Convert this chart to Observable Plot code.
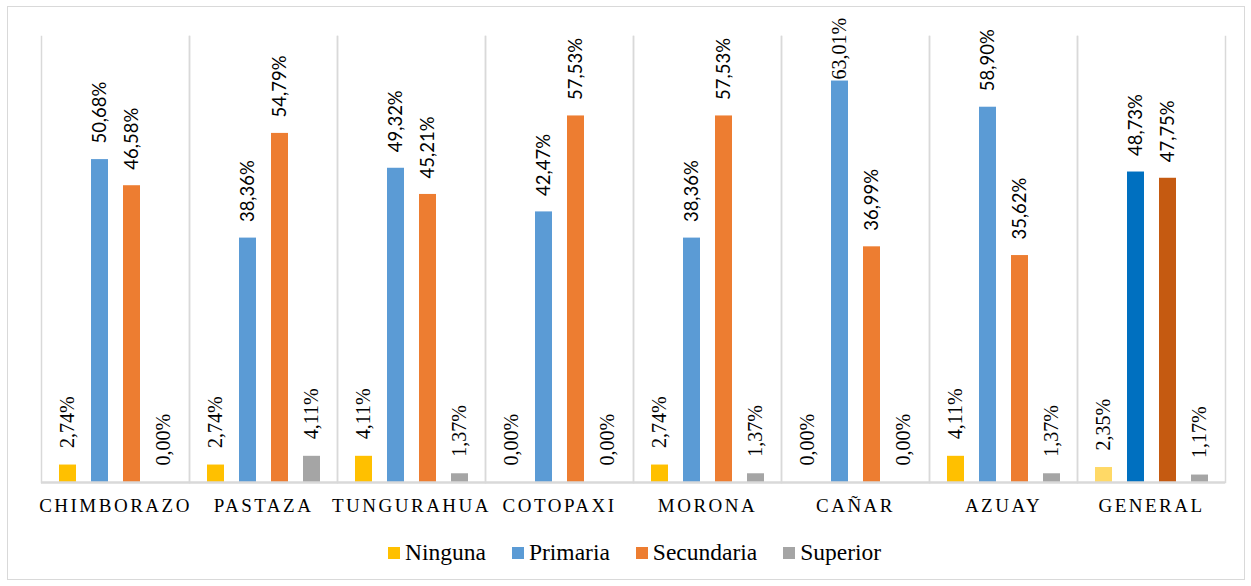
<!DOCTYPE html>
<html>
<head>
<meta charset="utf-8">
<script src="https://cdn.jsdelivr.net/npm/d3@7"></script>
<script src="https://cdn.jsdelivr.net/npm/@observablehq/plot@0.6"></script>
<style>
  html, body { margin: 0; padding: 0; background: #fff; }
  #wrap { position: relative; width: 1251px; height: 586px; overflow: hidden; }
  #border { position: absolute; left: 7px; top: 6px; width: 1236px; height: 572px; border: 1.5px solid #d9d9d9; pointer-events: none; }
  #chart { position: absolute; left: 0; top: 0; }
  #legend { position: absolute; left: 388px; top: 539px; display: flex; align-items: center;
            font-family: "Liberation Serif", "Times New Roman", serif; font-size: 23.5px; color: #000; }
  #legend .item { display: flex; align-items: center; margin-right: 26px; }
  #legend .sw { width: 12px; height: 12px; margin-right: 5px; }
</style>
</head>
<body>
<div id="wrap">
  <div id="chart"></div>
  <div id="border"></div>
  <div id="legend"></div>
</div>
<script>
const groups = ["CHIMBORAZO", "PASTAZA", "TUNGURAHUA", "COTOPAXI", "MORONA", "CAÑAR", "AZUAY", "GENERAL"];
const series = ["Ninguna", "Primaria", "Secundaria", "Superior"];
const ninguna    = [2.74, 2.74, 4.11, 0.00, 2.74, 0.00, 4.11, 2.35];
const primaria   = [50.68, 38.36, 49.32, 42.47, 38.36, 63.01, 58.90, 48.73];
const secundaria = [46.58, 54.79, 45.21, 57.53, 57.53, 36.99, 35.62, 47.75];
const superior   = [0.00, 4.11, 1.37, 0.00, 1.37, 0.00, 1.37, 1.17];

const colors = {Ninguna: "#FFC000", Primaria: "#5B9BD5", Secundaria: "#ED7D31", Superior: "#A5A5A5"};
const colorsGeneral = {Ninguna: "#FFD966", Primaria: "#0070C0", Secundaria: "#C55A11", Superior: "#A5A5A5"};

const valuesBySeries = {Ninguna: ninguna, Primaria: primaria, Secundaria: secundaria, Superior: superior};
const data = [];
groups.forEach((g, i) => {
  series.forEach(s => {
    data.push({group: g, series: s, value: valuesBySeries[s][i]});
  });
});
const fmt = v => v.toFixed(2).replace(".", ",") + "%";
const fillOf = d => (d.group === "GENERAL" ? colorsGeneral : colors)[d.series];
const labelCap = 60.6; // labels that would leave the plot are kept inside it
const isSerif = d => d.series === "Ninguna" || d.series === "Superior" || d.value > labelCap;

const chart = Plot.plot({
  width: 1251,
  height: 530,
  marginLeft: 40,
  marginRight: 25,
  marginTop: 36,
  marginBottom: 48,
  fx: {domain: groups, padding: 0, label: null},
  x: {domain: series, paddingInner: 0.48, paddingOuter: 0.52, axis: null},
  y: {domain: [0, 70], axis: null},
  color: {type: "identity"},
  marks: [
    Plot.frame({anchor: "left", stroke: "#d9d9d9", strokeWidth: 1.5}),
    Plot.frame({anchor: "right", stroke: "#d9d9d9", strokeWidth: 1.5}),
    Plot.barY(data, {fx: "group", x: "series", y: "value", fill: fillOf}),
    Plot.ruleY([0], {stroke: "#d9d9d9", strokeWidth: 2.5}),
    Plot.text(data.filter(isSerif), {
      fx: "group", x: "series", y: d => Math.min(d.value, labelCap), text: d => fmt(d.value),
      rotate: -90, textAnchor: "start", lineAnchor: "middle", dy: -17,
      fontFamily: "Liberation Serif, Times New Roman, serif", fontSize: 20, fill: "#000"
    }),
    Plot.text(data.filter(d => !isSerif(d)), {
      fx: "group", x: "series", y: "value", text: d => fmt(d.value),
      rotate: -90, textAnchor: "start", lineAnchor: "middle", dy: -16,
      fontFamily: "Lato, Carlito, sans-serif", fontSize: 18.5, fill: "#000"
    }),
    Plot.axisFx({anchor: "bottom", tickSize: 0, tickPadding: 16, label: null,
      fontFamily: "Liberation Serif, Times New Roman, serif", fontSize: 19, fill: "#000"})
  ]
});
chart.style.overflow = "visible";
document.getElementById("chart").appendChild(chart);
d3.select(chart).selectAll('g[aria-label="fx-axis tick label"] text').style("letter-spacing", "2.5px");

const legend = document.getElementById("legend");
series.forEach(s => {
  const item = document.createElement("div");
  item.className = "item";
  const sw = document.createElement("div");
  sw.className = "sw";
  sw.style.background = colors[s];
  const t = document.createElement("span");
  t.textContent = s;
  item.appendChild(sw);
  item.appendChild(t);
  legend.appendChild(item);
});
</script>
</body>
</html>
